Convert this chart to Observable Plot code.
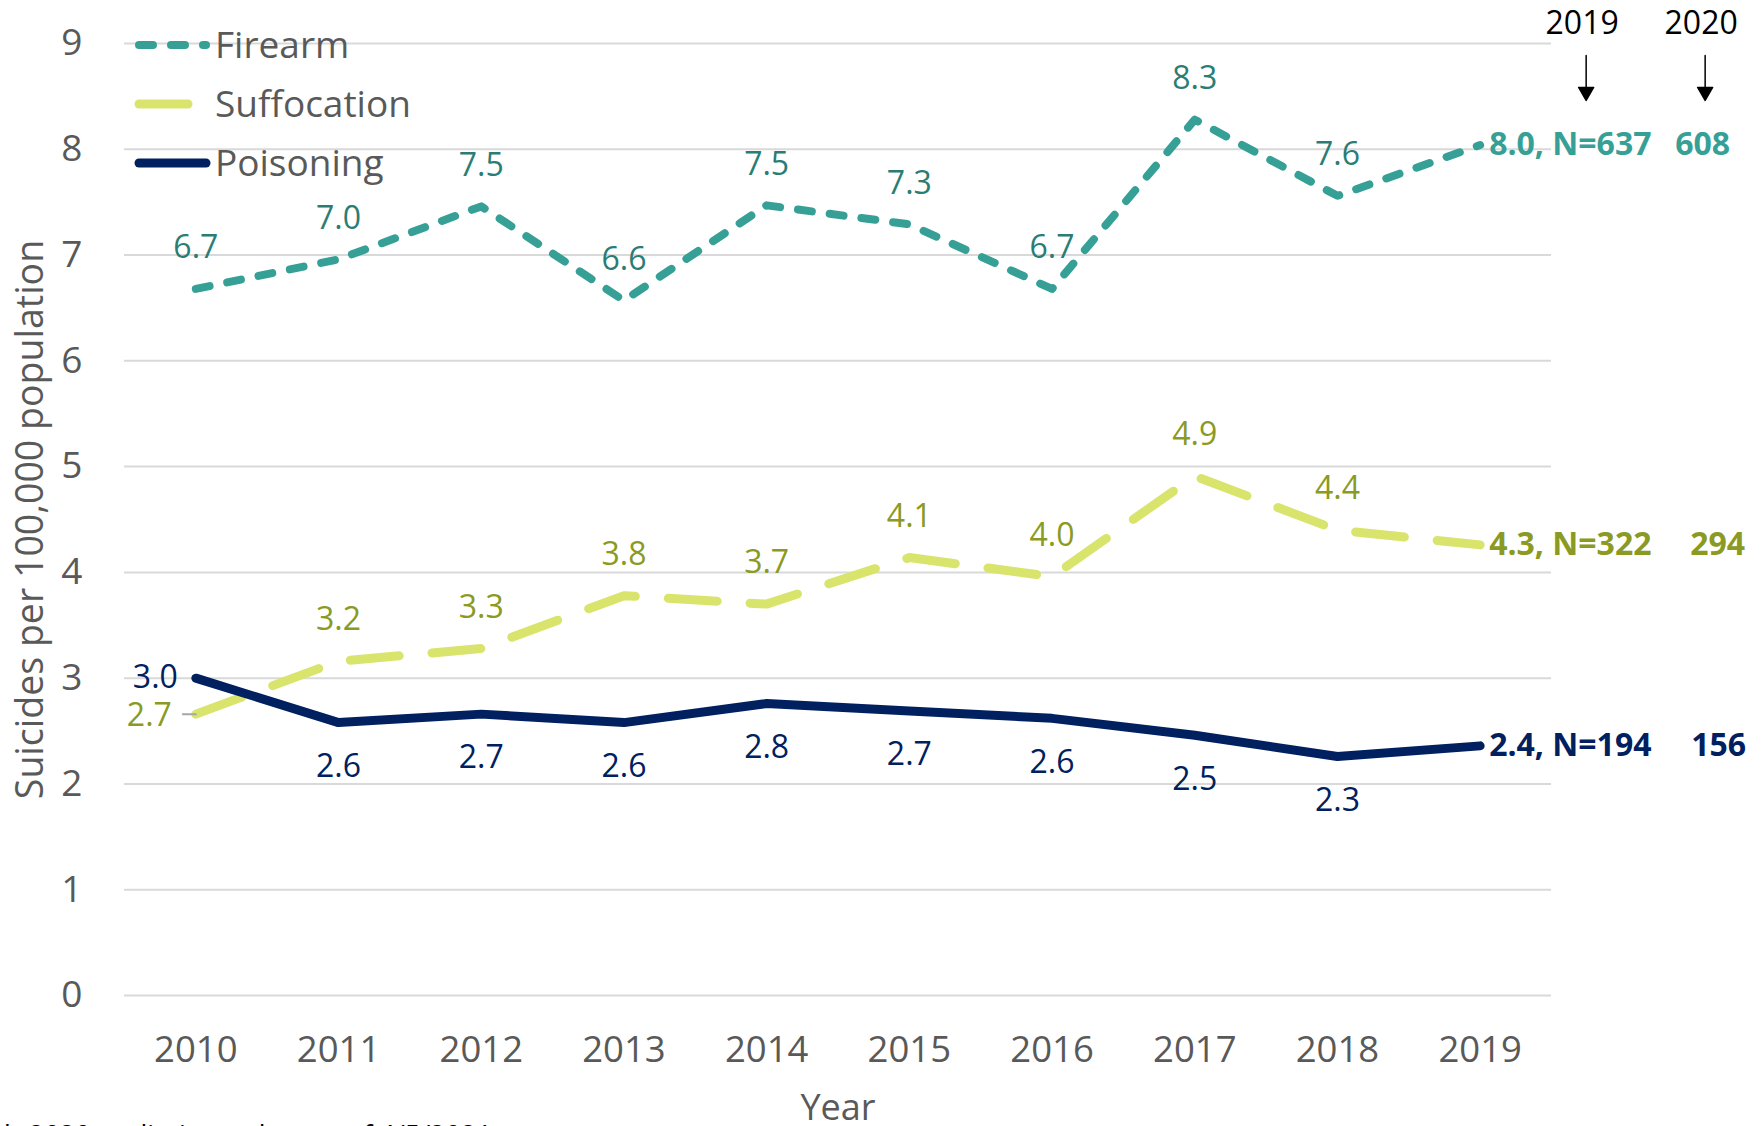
<!DOCTYPE html>
<html><head><meta charset="utf-8">
<script src="https://cdn.jsdelivr.net/npm/d3@7"></script>
<script src="https://cdn.jsdelivr.net/npm/@observablehq/plot@0.6"></script>
<style>
html,body{margin:0;padding:0;background:#fff;}
#wrap{position:relative;width:1762px;height:1126px;overflow:hidden;font-family:"Open Sans",sans-serif;}
#legend{position:absolute;left:0;top:0;}
#caption{position:absolute;left:0;top:1121px;font-size:27px;line-height:27px;color:#000;white-space:nowrap;}
</style></head><body>
<div id="wrap"><div id="chart"></div><div id="legend"></div><div id="caption"></div></div>
<script>
// ---- data ----
const years = [2010, 2011, 2012, 2013, 2014, 2015, 2016, 2017, 2018, 2019];
const firearm = [6.68, 6.96, 7.46, 6.57, 7.47, 7.29, 6.68, 8.28, 7.56, 8.04];
const suffocation = [2.66, 3.16, 3.28, 3.78, 3.70, 4.14, 3.96, 4.91, 4.40, 4.26];
const poisoning = [3.00, 2.58, 2.66, 2.58, 2.76, 2.69, 2.62, 2.46, 2.26, 2.36];
const seriesNames = ["Firearm", "Suffocation", "Poisoning"];
const n2019 = [637, 322, 194];
const n2020 = [608, 294, 156];
const columnHeaders = ["2019", "2020"];
const yTicks = [0, 1, 2, 3, 4, 5, 6, 7, 8, 9];
const yTitle = "Suicides per 100,000 population";
const xTitle = "Year";
const caption = "*: 2020 preliminary data as of 4/5/2021";

// ---- styles ----
const styles = {
  Firearm:     {line: "#36A096", label: "#2A7D75", bold: "#36A096", dash: "14,18", width: 8, dy: -41, n2020dx: 195},
  Suffocation: {line: "#D9E46C", label: "#8A9A22", bold: "#8A9A22", dash: "49,33", width: 9, dy: -41, n2020dx: 210},
  Poisoning:   {line: "#002060", label: "#002060", bold: "#002060", dash: null,   width: 9, dy: 44,  n2020dx: 211}
};
const values = [firearm, suffocation, poisoning];
const rows = seriesNames.flatMap((s, si) => years.map((y, i) => ({series: s, year: y, value: values[si][i], n2019: n2019[si], n2020: n2020[si]})));
const fmt = d3.format(".1f");
const lastYear = years[years.length - 1];
const firstYear = years[0];
const FONT = "Open Sans";

const arrowShape = {
  draw(context, l) {
    const h = 13, w = 7.5;
    context.moveTo(0, 0);
    context.lineTo(0, -(l - h));
    context.moveTo(-w, -(l - h));
    context.lineTo(0, -l);
    context.lineTo(w, -(l - h));
    context.closePath();
  }
};
const leaderShape = {draw(context, l) { context.moveTo(0, 0); context.lineTo(0, -l); }};

const marks = [
  Plot.gridY(yTicks, {stroke: "#D9D9D9", strokeOpacity: 1, strokeWidth: 2}),
  Plot.axisY({ticks: yTicks, tickSize: 0, tickPadding: 42, fontSize: 37, color: "#595959", label: null}),
  Plot.axisX({ticks: years, tickFormat: d => String(d), tickSize: 0, tickPadding: 41, fontSize: 36.5, color: "#595959", label: null}),
  Plot.text([yTitle], {frameAnchor: "left", textAnchor: "middle", lineAnchor: "middle", rotate: -90, dx: -94, dy: 0, fontSize: 37.5, fill: "#595959"}),
  Plot.text([xTitle], {frameAnchor: "bottom", textAnchor: "middle", lineAnchor: "middle", dy: 113, fontSize: 36, fill: "#595959"})
];

for (const s of seriesNames) {
  const st = styles[s];
  const data = rows.filter(d => d.series === s);
  marks.push(Plot.line(data, {x: "year", y: "value", stroke: st.line, strokeWidth: st.width,
    strokeLinecap: "round", strokeLinejoin: "round", strokeDasharray: st.dash || undefined}));
}

for (const s of seriesNames) {
  const st = styles[s];
  const data = rows.filter(d => d.series === s);
  const mid = data.filter(d => d.year !== lastYear && (s === "Firearm" || d.year !== firstYear));
  marks.push(Plot.text(mid, {x: "year", y: "value", text: d => fmt(d.value), dy: st.dy, fontSize: 32, fill: st.label}));
  const last = data.filter(d => d.year === lastYear);
  marks.push(Plot.text(last, {x: "year", y: "value", text: d => `${fmt(d.value)}, N=${d.n2019}`, textAnchor: "start", dx: 9, fontSize: 32, fontWeight: "bold", fill: st.bold}));
  marks.push(Plot.text(last, {x: "year", y: "value", text: d => String(d.n2020), textAnchor: "start", dx: st.n2020dx, fontSize: 32, fontWeight: "bold", fill: st.bold}));
}

// first-year labels placed left of the points
const suff0 = rows.filter(d => d.series === "Suffocation" && d.year === firstYear);
const pois0 = rows.filter(d => d.series === "Poisoning" && d.year === firstYear);
marks.push(Plot.vector(suff0, {x: "year", y: "value", length: 13, rotate: -90, anchor: "start", shape: leaderShape, stroke: "#A6A6A6", strokeWidth: 2}));
marks.push(Plot.text(suff0, {x: "year", y: "value", text: d => fmt(d.value), textAnchor: "end", dx: -24, dy: 2, fontSize: 32, fill: styles.Suffocation.label}));
marks.push(Plot.text(pois0, {x: "year", y: "value", text: d => fmt(d.value), textAnchor: "end", dx: -18, dy: 0, fontSize: 32, fill: styles.Poisoning.label}));

// column headers with arrows
columnHeaders.forEach((h, i) => {
  marks.push(Plot.text([h], {x: () => lastYear, frameAnchor: "top", textAnchor: "middle", lineAnchor: "middle", dx: 102 + 119 * i, dy: -19.5, fontSize: 32, fill: "#000"}));
  marks.push(Plot.vector([h], {x: () => lastYear, frameAnchor: "top", dx: 106 + 119 * i, dy: 12, length: 45, rotate: 180, anchor: "start", shape: arrowShape, stroke: "#000", fill: "#000", strokeWidth: 1.5}));
});

const chart = Plot.plot({
  width: 1762, height: 1126,
  marginTop: 43, marginBottom: 131, marginLeft: 124, marginRight: 211,
  style: {fontFamily: FONT, background: "#fff", overflow: "visible"},
  x: {type: "linear", domain: [2009.5, 2019.5], axis: null},
  y: {domain: [0, 9], axis: null},
  marks
});
document.getElementById("chart").appendChild(chart);

// ---- legend ----
const lg = d3.select("#legend").append("svg").attr("width", 420).attr("height", 200)
  .style("font-family", FONT);
const legendRowY = [45, 104, 163];
seriesNames.forEach((s, i) => {
  const st = styles[s];
  const y = legendRowY[i];
  lg.append("line").attr("x1", 139).attr("x2", 206).attr("y1", y).attr("y2", y)
    .attr("stroke", st.line).attr("stroke-width", st.width).attr("stroke-linecap", "round")
    .attr("stroke-dasharray", st.dash);
  lg.append("text").attr("x", 215).attr("y", y + 13).attr("font-size", 37).attr("fill", "#595959").text(s);
});
document.getElementById("caption").textContent = caption;
</script>
</body></html>
